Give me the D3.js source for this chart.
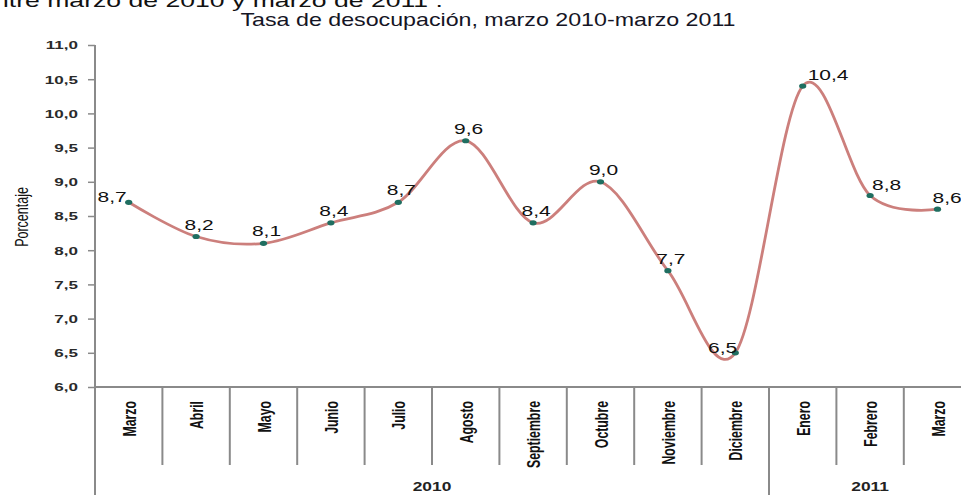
<!DOCTYPE html>
<html>
<head>
<meta charset="utf-8">
<script src="https://cdn.jsdelivr.net/npm/d3@7"></script>
<style>
  body { margin: 0; background: #fff; overflow: hidden; }
  text { font-family: "Liberation Sans", Arial, sans-serif; }
</style>
</head>
<body>
<svg id="chart" width="961" height="495"></svg>
<script>
// data
var months = ['Marzo', 'Abril', 'Mayo', 'Junio', 'Julio', 'Agosto', 'Septiembre',
              'Octubre', 'Noviembre', 'Diciembre', 'Enero', 'Febrero', 'Marzo'];
var rate = [8.7, 8.2, 8.1, 8.4, 8.7, 9.6, 8.4, 9.0, 7.7, 6.5, 10.4, 8.8, 8.6];
var years = ['2010', '2011'];
var yearMonths = [10, 3];
var yTicks = [6.0, 6.5, 7.0, 7.5, 8.0, 8.5, 9.0, 9.5, 10.0, 10.5, 11.0];

var svg = d3.select('#chart');
var plotLeft = 95, plotTop = 45, plotBottom = 387, bandW = 67.4;
var sx = 1.55; // the whole picture is stretched sideways

var fmt = function(v) { return d3.format('.1f')(v).replace('.', ','); };

var x = d3.scaleBand()
          .domain(d3.range(months.length))
          .range([plotLeft, plotLeft + bandW * months.length]);
var y = d3.scaleLinear()
          .domain([6, 11])
          .range([plotBottom, plotTop]);

// cut-off text from the page above the chart
svg.append('text')
   .attr('transform', 'translate(-6,7) scale(1.4,1)')
   .attr('font-size', 19)
   .attr('fill', '#111')
   .text('ntre marzo de 2010 y marzo de 2011 .');

svg.append('text')
   .attr('transform', 'translate(488,26) scale(1.29,1)')
   .attr('text-anchor', 'middle')
   .attr('font-size', 18)
   .attr('fill', '#151525')
   .text('Tasa de desocupación, marzo 2010-marzo 2011');

// y axis
var yAxis = d3.axisLeft(y).tickValues(yTicks).tickFormat(fmt).tickSize(7).tickSizeOuter(7);
var gy = svg.append('g').attr('transform', 'translate(' + plotLeft + ',0)').call(yAxis);
gy.select('.domain').remove();
gy.selectAll('.tick line').attr('stroke', '#8a8a8a').attr('stroke-width', 1.5);
gy.selectAll('.tick text')
  .attr('x', null).attr('dy', null)
  .attr('dominant-baseline', 'central')
  .attr('transform', 'translate(-17,0) scale(' + sx + ',1)')
  .attr('font-size', 11).attr('font-weight', 'bold')
  .attr('fill', '#2a2a2a');

// axis lines
svg.append('line')
   .attr('x1', plotLeft).attr('x2', plotLeft).attr('y1', plotTop).attr('y2', 495)
   .attr('stroke', '#8a8a8a').attr('stroke-width', 2);
svg.append('line')
   .attr('x1', plotLeft).attr('x2', 961).attr('y1', plotBottom).attr('y2', plotBottom)
   .attr('stroke', '#8a8a8a').attr('stroke-width', 2);

// month separators and labels
svg.selectAll('.sep')
   .data(d3.range(1, months.length + 1))
   .enter().append('line')
   .attr('class', 'sep')
   .attr('x1', function(d) { return x(0) + d * x.bandwidth(); })
   .attr('x2', function(d) { return x(0) + d * x.bandwidth(); })
   .attr('y1', plotBottom).attr('y2', 465)
   .attr('stroke', '#8a8a8a').attr('stroke-width', 2);

svg.selectAll('.month')
   .data(months)
   .enter().append('text')
   .attr('class', 'month')
   .attr('transform', function(d, i) {
       return 'translate(' + (x(i) + x.bandwidth() / 2) + ',401) scale(' + sx + ',1) rotate(-90)';
   })
   .attr('text-anchor', 'end')
   .attr('dominant-baseline', 'central')
   .attr('font-size', 12.3)
   .attr('font-weight', 'bold')
   .attr('fill', '#111')
   .text(function(d) { return d; });

// year groups
var start = 0;
years.forEach(function(yr, k) {
    var x0 = x(start), x1 = x(0) + (start + yearMonths[k]) * x.bandwidth();
    svg.append('line')
       .attr('x1', x0).attr('x2', x0).attr('y1', plotBottom).attr('y2', 495)
       .attr('stroke', '#8a8a8a').attr('stroke-width', 2);
    svg.append('text')
       .attr('transform', 'translate(' + ((x0 + x1) / 2) + ',491) scale(1.45,1)')
       .attr('text-anchor', 'middle')
       .attr('font-size', 12)
       .attr('font-weight', 'bold')
       .attr('fill', '#222')
       .text(yr);
    start += yearMonths[k];
});

// smoothed line
var line = d3.line()
             .x(function(d, i) { return x(i) + x.bandwidth() / 2; })
             .y(function(d) { return y(d); })
             .curve(d3.curveCardinal.tension(0));

svg.append('path')
   .datum(rate)
   .attr('d', line)
   .attr('fill', 'none')
   .attr('stroke', '#cc7f7c')
   .attr('stroke-width', 2.8);

svg.selectAll('.pt')
   .data(rate)
   .enter().append('ellipse')
   .attr('class', 'pt')
   .attr('cx', function(d, i) { return x(i) + x.bandwidth() / 2; })
   .attr('cy', function(d) { return y(d); })
   .attr('rx', 3.6).attr('ry', 2.6)
   .attr('fill', '#1f6e60');

// label nudges: [dx, dy, anchor]
var nudge = {0: [-2, 0, 'end'], 9: [2, 0, 'end'], 10: [5, -6, 'start'], 11: [2, -5, 'start'], 12: [-5, -6, 'start']};
svg.selectAll('.lbl')
   .data(rate)
   .enter().append('text')
   .attr('class', 'lbl')
   .attr('transform', function(d, i) {
       var n = nudge[i] || [3, -7, 'middle'];
       return 'translate(' + (x(i) + x.bandwidth() / 2 + n[0]) + ',' + (y(d) + n[1]) + ') scale(1.4,1)';
   })
   .attr('text-anchor', function(d, i) { return (nudge[i] || [0, 0, 'middle'])[2]; })
   .attr('font-size', 15)
   .attr('fill', '#111')
   .text(function(d) { return fmt(d); });

// axis title
svg.append('text')
   .attr('transform', 'translate(22,217) scale(1.5,1) rotate(-90)')
   .attr('text-anchor', 'middle')
   .attr('dominant-baseline', 'central')
   .attr('font-size', 12.5)
   .attr('fill', '#111')
   .text('Porcentaje');
</script>
</body>
</html>
